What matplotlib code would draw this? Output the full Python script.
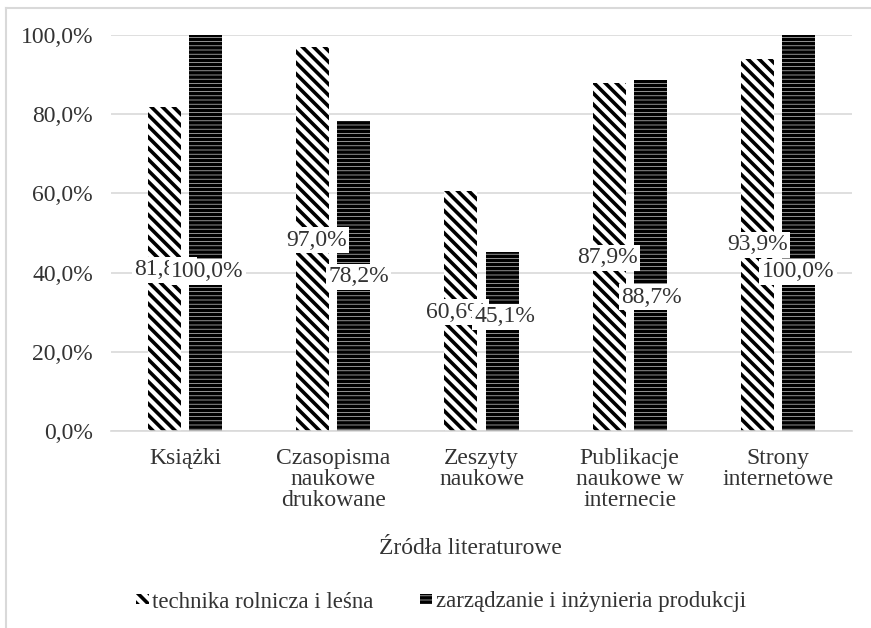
import matplotlib
matplotlib.use("Agg")
import matplotlib.pyplot as plt
from matplotlib.lines import Line2D
import numpy as np

categories = ["Książki", "Czasopisma\nnaukowe\ndrukowane", "Zeszyty\nnaukowe",
              "Publikacje\nnaukowe w\ninternecie", "Strony\ninternetowe"]
series_names = ["technika rolnicza i leśna", "zarządzanie i inżynieria produkcji"]
s1 = [81.8, 97.0, 60.6, 87.9, 93.9]
s2 = [100.0, 78.2, 45.1, 88.7, 100.0]
labels1 = ["81,8%", "97,0%", "60,6%", "87,9%", "93,9%"]
labels2 = ["100,0%", "78,2%", "45,1%", "88,7%", "100,0%"]
yticks = [0, 20, 40, 60, 80, 100]
ytick_labels = ["0,0%", "20,0%", "40,0%", "60,0%", "80,0%", "100,0%"]

# label placement (data coords, manually moved labels as in reference)
lab1_dx = [-0.14, -0.115, -0.17, -0.15, -0.14]
lab1_y = [40.7, 48.2, 30.0, 43.7, 47.0]
lab2_dx = [0.15, 0.17, 0.155, 0.15, 0.135]
lab2_y = [40.2, 38.9, 28.8, 33.8, 40.2]

plt.rcParams['font.family'] = ['Liberation Serif', 'DejaVu Serif']
plt.rcParams['hatch.linewidth'] = 2.6
plt.rcParams['hatch.color'] = 'black'
TXT = '#333333'
FS = 17

W, H = 871, 628
fig = plt.figure(figsize=(W / 100, H / 100), dpi=100)
ax = fig.add_axes([111 / W, 1 - 431 / H, (852 - 111) / W, (431 - 35) / H])

# chart frame (top & left visible)
fig.add_artist(Line2D([6 / W, 1], [1 - 8 / H, 1 - 8 / H], color='#d9d9d9', lw=1.5,
                      transform=fig.transFigure))
fig.add_artist(Line2D([6 / W, 6 / W], [0, 1 - 8 / H], color='#d9d9d9', lw=1.5,
                      transform=fig.transFigure))

x = np.arange(len(categories))
bw = 0.223
off = 0.139
b1 = ax.bar(x - off, s1, bw, color='white', edgecolor='black', linewidth=0,
            hatch='\\\\\\', label=series_names[0], zorder=2)
b2 = ax.bar(x + off, s2, bw, color='white', edgecolor='black', linewidth=0,
            hatch='----', label=series_names[1], zorder=2)

bbox = dict(boxstyle='square,pad=0.1', fc='white', ec='none')
for i in range(len(categories)):
    ax.text(x[i] + lab1_dx[i], lab1_y[i], labels1[i], ha='center', va='center',
            fontsize=FS, color=TXT, bbox=bbox, zorder=3)
for i in range(len(categories)):
    ax.text(x[i] + lab2_dx[i], lab2_y[i], labels2[i], ha='center', va='center',
            fontsize=FS, color=TXT, bbox=bbox, zorder=4)

ax.set_xlim(-0.5, len(categories) - 0.5)
ax.set_ylim(0, 100)
ax.set_yticks(yticks)
ax.set_yticklabels(ytick_labels, fontsize=FS, color=TXT)
ax.set_xticks(x)
ax.set_xticklabels(categories, fontsize=FS, color=TXT, linespacing=1.0)
ax.tick_params(axis='y', length=0, pad=13)
ax.tick_params(axis='x', length=0, pad=12)
ax.grid(axis='y', color='#d9d9d9', lw=1.2, zorder=0)
ax.set_axisbelow(True)
for s in ['top', 'right', 'left']:
    ax.spines[s].set_visible(False)
ax.spines['bottom'].set_color('#d9d9d9')
ax.spines['bottom'].set_linewidth(1.2)

fig.text(470 / W, 1 - 549 / H, "Źródła literaturowe", ha='center', va='center',
         fontsize=FS, color=TXT)

leg = fig.legend(handles=[b1, b2], labels=series_names, loc='center',
                 bbox_to_anchor=(441 / W, 1 - 602 / H), ncol=2, frameon=False,
                 fontsize=16.5, handlelength=0.55, handleheight=0.3, handletextpad=0.17,
                 columnspacing=2.0, labelcolor=TXT)

fig.savefig("out.png", dpi=100, facecolor='white')
